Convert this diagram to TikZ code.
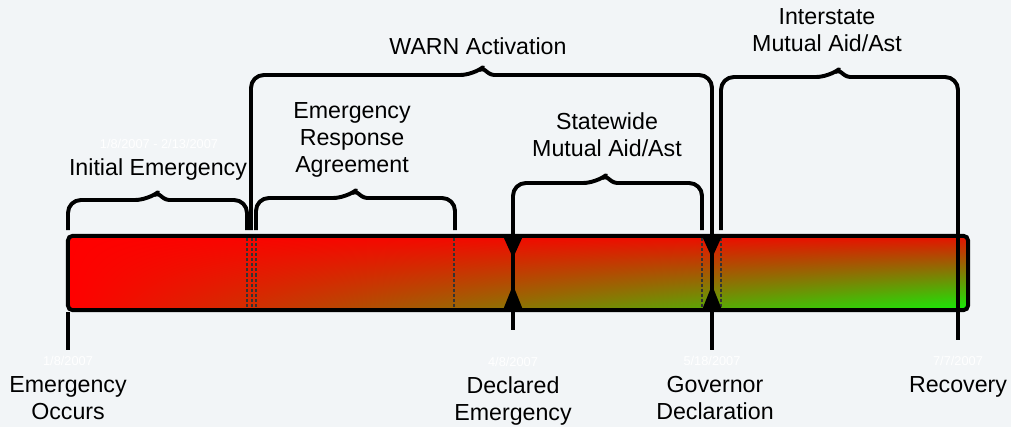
\documentclass[tikz,border=0pt]{standalone}
\usepackage{fontspec}
\setmainfont{Liberation Sans}
\usetikzlibrary{positioning, calc, shadings}
\definecolor{backdrop}{RGB}{242,245,247}
\definecolor{barred}{RGB}{255,0,0}
\definecolor{barend}{RGB}{232,16,0}
\definecolor{bargreen}{RGB}{18,240,8}
\tikzstyle{timebar} = [rectangle, shade, draw=black, line width=2.8pt, rounded corners=0.12cm,
	minimum width=22.5cm, minimum height=1.86cm,
	upper left=barred, upper right=barend, lower left=barred, lower right=bargreen]
\tikzstyle{phase} = [inner sep=0pt, align=center, anchor=north, font=\fontsize{16.5}{19.2}\selectfont]
\tikzstyle{datelabel} = [inner sep=0pt, text=white, font=\fontsize{9.1}{11}\selectfont]
\tikzstyle{braceline} = [line width=2.8pt, line join=round]
\tikzstyle{tickline} = [line width=2.8pt]
\tikzstyle{splitline} = [line width=0.8pt, dash pattern=on 2.2pt off 1.4pt, black!80]
% bracket over a phase: left x, right x, tip x, top y, leg end y
\newcommand{\phasebrace}[5]{%
	\draw[braceline] (#1,#5) [rounded corners=0.32cm] -- (#1,#4) -- ({#3-9},#4)
		[rounded corners=0.08cm] -- (#3,{#4-7}) -- ({#3+9},#4)
		[rounded corners=0.32cm] -- (#2,#4) -- (#2,#5);}

\begin{document}
\begin{tikzpicture}[x=0.025cm, y=-0.025cm]
	% background
	\fill[backdrop] (0,0) rectangle (1011,427);
	\useasboundingbox (0,0) rectangle (1011,427);

	% the time bar
	\node (bar) [timebar] at (518,273) {};
	\foreach \x in {247,252,256,454,702,721}
		\draw[splitline] (\x,238) -- (\x,308);

	% end points of the ticks
	\coordinate (occurs-tick) at (68,350);
	\coordinate (declared-tick) at (513,330);
	\coordinate (governor-tick) at (712,350);
	\coordinate (recovery-tick) at (958,340);

	\draw[tickline] (bar.south -| occurs-tick) -- (occurs-tick);
	\draw[tickline] (513,230) -- (declared-tick);
	\draw[tickline] (712,230) -- (governor-tick);
	\draw[tickline] (958,230) -- (recovery-tick);

	% markers on the bar
	\foreach \x in {513,712} {
		\fill ({\x-10},236) -- ({\x+10},236) -- (\x,258) -- cycle;
		\fill ({\x-10},310) -- ({\x+10},310) -- (\x,285) -- cycle;
	}

	% brackets
	\phasebrace{68}{247}{157}{200}{230}
	\phasebrace{256}{455}{355}{198}{230}
	\phasebrace{251}{712}{482}{75}{230}
	\phasebrace{513}{702}{605}{183}{230}
	\phasebrace{721}{958}{838}{77}{230}

	% phase labels
	\node (warn) [phase] at (478,37) {WARN Activation};
	\node (interstate) [phase] at (827,8) {Interstate\\Mutual Aid/Ast};
	\node (era) [phase] at (352,102) {Emergency\\Response\\Agreement};
	\node (initial) [phase] at (158,158) {Initial Emergency};
	\node (statewide) [phase] at (607,112) {Statewide\\Mutual Aid/Ast};

	% event labels
	\node (occurs) [phase] at (68,376) {Emergency\\Occurs};
	\node (declared) [phase] at (513,376) {Declared\\Emergency};
	\node (governor) [phase] at (715,376) {Governor\\Declaration};
	\node (recovery) [phase] at (958,376) {Recovery};

	% dates
	\node (initial-date) [datelabel] at (159,144) {1/8/2007 - 2/13/2007};
	\node (occurs-date) [datelabel] at (68,361) {1/8/2007};
	\node (declared-date) [datelabel] at (513,362) {4/8/2007};
	\node (governor-date) [datelabel] at (712,361) {5/18/2007};
	\node (recovery-date) [datelabel] at (958,361) {7/7/2007};
\end{tikzpicture}
\end{document}
